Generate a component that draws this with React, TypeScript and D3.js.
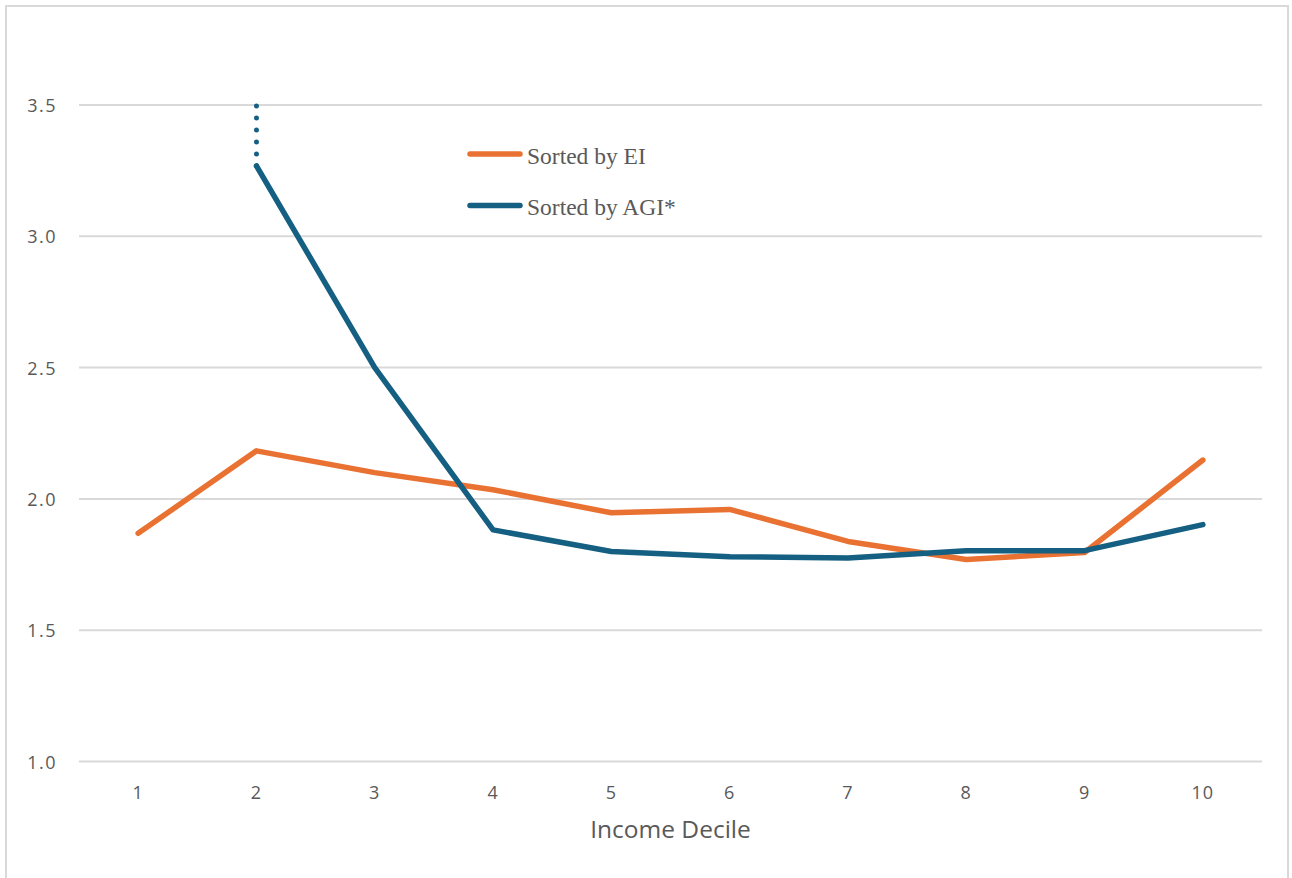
import React from "react";
import * as d3 from "d3";

// Income deciles on the x axis
const deciles = ["1", "2", "3", "4", "5", "6", "7", "8", "9", "10"];

// Ratio values per decile
const sortedByEI = [1.869, 2.183, 2.1, 2.035, 1.947, 1.96, 1.838, 1.769, 1.796, 2.148];
// Decile 1 of the AGI series is off the chart (no value drawn)
const sortedByAGI = [null, 3.268, 2.5, 1.882, 1.8, 1.78, 1.775, 1.803, 1.803, 1.902];
// The AGI series at decile 2 continues past the axis maximum; dotted up to the cap
const agiCapValue = 3.5;

const yTicks = [1.0, 1.5, 2.0, 2.5, 3.0, 3.5];

const seriesNames = ["Sorted by EI", "Sorted by AGI*"];
const seriesColors = ["#E97132", "#156082"];

const W = 1292;
const H = 878;

export default function App() {
  const x = d3.scalePoint<string>().domain(deciles).range([79, 1262]).padding(0.5);
  const y = d3.scaleLinear().domain([1, 3.5]).range([761.5, 105]);

  const line = d3
    .line<number | null>()
    .defined((d) => d !== null)
    .x((_, i) => x(deciles[i]) as number)
    .y((d) => y(d as number));

  const tickFont = "'Open Sans', 'Noto Sans', sans-serif";
  const tickColor = "#595959";

  const capX = x(deciles[1]) as number;

  return (
    <div style={{ position: "absolute", left: 0, top: 0 }}>
      <svg width={W} height={H} style={{ display: "block" }}>
        <rect x={0} y={0} width={W} height={H} fill="#ffffff" />
        {/* chart frame */}
        <rect x={6} y={6} width={1282} height={H + 20} fill="none" stroke="#d9d9d9" strokeWidth={2} />

        {/* gridlines and y labels */}
        {yTicks.map((t) => (
          <g key={t}>
            <line x1={79} x2={1262} y1={y(t)} y2={y(t)} stroke="#d9d9d9" strokeWidth={2} />
            <text
              x={57}
              y={y(t)}
              textAnchor="end"
              dominantBaseline="central"
              fontFamily={tickFont}
              fontSize={18}
              letterSpacing={1.5}
              fill={tickColor}
            >
              {d3.format(".1f")(t)}
            </text>
          </g>
        ))}

        {/* x labels */}
        {deciles.map((d) => (
          <text
            key={d}
            x={x(d) as number}
            y={792}
            textAnchor="middle"
            dominantBaseline="central"
            fontFamily={tickFont}
            fontSize={18}
            letterSpacing={1}
            fill={tickColor}
          >
            {d}
          </text>
        ))}
        <text
          x={670.5}
          y={838}
          textAnchor="middle"
          fontFamily={tickFont}
          fontSize={24.5}
          fill={tickColor}
        >
          Income Decile
        </text>

        {/* dotted extension of the AGI series above the axis cap */}
        <line
          x1={capX}
          x2={capX}
          y1={y(sortedByAGI[1] as number)}
          y2={y(agiCapValue)}
          stroke={seriesColors[1]}
          strokeWidth={5}
          strokeLinecap="round"
          strokeDasharray="0 12"
        />

        {/* series lines */}
        <path
          d={line(sortedByEI) ?? ""}
          fill="none"
          stroke={seriesColors[0]}
          strokeWidth={5.5}
          strokeLinejoin="round"
          strokeLinecap="round"
        />
        <path
          d={line(sortedByAGI) ?? ""}
          fill="none"
          stroke={seriesColors[1]}
          strokeWidth={5.5}
          strokeLinejoin="round"
          strokeLinecap="round"
        />

        {/* legend */}
        {seriesNames.map((name, i) => (
          <g key={name} transform={`translate(0, ${i * 51.5})`}>
            <line
              x1={470}
              x2={520}
              y1={154}
              y2={154}
              stroke={seriesColors[i]}
              strokeWidth={5.5}
              strokeLinecap="round"
            />
            <text
              x={527}
              y={163.5}
              fontFamily="'Liberation Serif', 'Times New Roman', serif"
              fontSize={23.5}
              fill="#595959"
            >
              {name}
            </text>
          </g>
        ))}
      </svg>
    </div>
  );
}
